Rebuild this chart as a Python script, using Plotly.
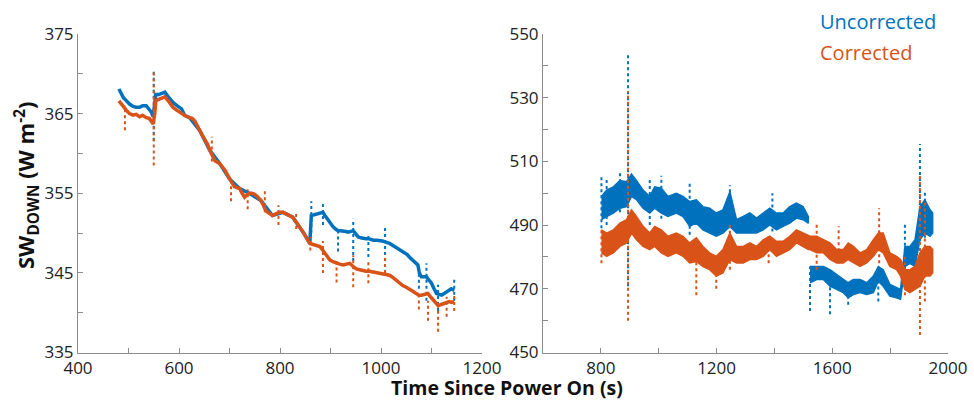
import plotly.graph_objects as go

BLUE = "#0072BD"
ORANGE = "#D95319"

# ---------------- Left panel ----------------
left_orange_x = [481, 488, 496, 502, 509, 515, 522, 528, 535, 541, 545, 549, 552, 554, 560, 566, 572, 580, 588, 596,
                 605, 613, 621, 626, 631, 636, 641, 646, 651, 656, 661, 666, 671, 676, 681, 686, 691, 696, 700, 705,
                 710, 715, 720, 725, 730, 735, 739, 744, 749, 755, 762, 767, 772, 778, 785, 792, 799, 806, 812, 819,
                 825, 832, 839, 844, 848, 854, 859, 864, 869, 874, 879, 884, 889, 894, 899, 905, 912, 918, 925, 932,
                 938, 945, 951, 958, 964, 970, 977, 984, 990, 997, 1004, 1010, 1017, 1024, 1030, 1037, 1043, 1050,
                 1056, 1063, 1070, 1075, 1080, 1086, 1093, 1098, 1103, 1108, 1113, 1118, 1122, 1128, 1135, 1140, 1145]
left_orange_y = [366.6, 366.0, 365.4, 365.0, 364.8, 364.9, 364.6, 364.8, 364.5, 364.4, 364.1, 363.7, 365.0, 366.6,
                 366.8, 367.0, 367.1, 366.5, 365.8, 365.4, 365.0, 364.7, 364.5, 364.4, 364.1, 363.4, 362.9, 362.3,
                 361.8, 361.2, 360.4, 359.8, 359.1, 358.9, 358.7, 358.3, 357.9, 357.3, 356.8, 356.3, 355.8, 355.7,
                 355.6, 355.0, 354.5, 354.8, 355.0, 355.0, 354.9, 354.6, 354.1, 353.5, 352.8, 352.5, 352.2, 352.4,
                 352.6, 352.6, 352.4, 352.2, 352.0, 351.4, 350.8, 350.3, 349.9, 349.2, 348.7, 348.6, 348.5, 348.4,
                 348.3, 347.9, 347.4, 347.0, 346.6, 346.4, 346.2, 346.1, 346.0, 346.1, 346.2, 345.8, 345.5, 345.4,
                 345.3, 345.2, 345.2, 345.1, 345.1, 345.0, 344.9, 344.8, 344.7, 344.4, 344.1, 343.7, 343.4, 343.2,
                 343.0, 342.7, 342.4, 342.2, 342.2, 342.3, 342.4, 342.0, 341.6, 341.2, 340.9, 341.0, 341.1, 341.3,
                 341.4, 341.3, 341.4]

left_blue_x = [481, 485, 490, 496, 502, 509, 515, 522, 528, 535, 540, 545, 549, 552, 554, 560, 566, 572, 580, 588,
               596, 605, 611, 621, 641, 661, 681, 700, 720, 739, 762, 785, 806, 825, 848, 859,
               862, 867, 872, 879, 885, 890, 895, 900, 905, 910, 915, 920, 925, 930, 935, 940, 945, 950, 955, 960,
               965, 970, 975, 980, 985, 992, 998, 1003, 1008, 1013, 1017, 1022, 1027, 1032, 1037, 1042, 1047, 1052,
               1056, 1061, 1066, 1070, 1073, 1076, 1080, 1085, 1090, 1095, 1100, 1105, 1110, 1115, 1120, 1125, 1129,
               1134, 1139, 1145]
left_blue_y = [368.1, 367.6, 367.0, 366.6, 366.2, 365.9, 365.8, 365.8, 366.0, 366.0, 365.6, 365.2, 364.6, 366.5,
               367.4, 367.4, 367.5, 367.7, 367.0, 366.4, 366.0, 365.6, 364.8, 364.5, 362.9, 360.4, 358.7, 356.8,
               355.6, 355.0, 354.1, 352.2, 352.6, 352.0, 349.9, 348.7,
               352.2, 352.3, 352.4, 352.5, 352.6, 352.1, 351.6, 351.2, 350.8, 350.5, 350.3, 350.3, 350.3, 350.2,
               350.1, 350.2, 350.3, 349.9, 349.5, 349.4, 349.3, 349.3, 349.3, 349.2, 349.1, 349.1, 349.1, 349.0,
               348.9, 348.8, 348.7, 348.5, 348.3, 348.2, 348.0, 347.8, 347.6, 347.3, 347.0, 346.7, 346.4, 346.2,
               346.0, 345.0, 344.5, 344.5, 344.5, 344.1, 343.7, 343.0, 342.4, 342.3, 342.2, 342.4, 342.6, 342.8,
               343.0, 342.8]

# spikes (time, low, high)
left_blue_spike_x = [550, 862, 885, 915, 945, 975, 1008, 1075, 1090, 1113, 1145]
left_blue_spike_lo = [361.6, 350.0, 351.0, 347.7, 346.5, 347.0, 346.5, 343.0, 341.5, 340.2, 341.5]
left_blue_spike_hi = [370.6, 354.0, 353.7, 350.5, 351.8, 350.0, 350.8, 346.0, 346.2, 343.5, 344.5]
left_orange_spike_x = [493, 550, 665, 703, 736, 770, 797, 832, 860, 885, 912, 945, 975, 1008, 1075, 1093, 1113, 1130, 1145]
left_orange_spike_lo = [362.9, 358.5, 359.0, 354.0, 353.0, 352.6, 351.0, 350.5, 347.8, 345.0, 343.8, 343.2, 343.7,
                        345.0, 340.4, 339.0, 337.6, 339.5, 340.2]
left_orange_spike_hi = [366.0, 370.3, 362.1, 356.6, 355.5, 355.5, 353.5, 352.5, 349.5, 349.0, 346.5, 347.2, 346.5,
                        347.3, 342.5, 341.5, 341.0, 342.0, 342.5]

# ---------------- Right panel (envelopes) ----------------
right_x = [802, 820, 843, 866, 889, 906, 923, 946, 969, 986, 1009, 1032, 1061, 1084, 1107, 1130, 1153, 1176, 1199,
           1222, 1246, 1269, 1292, 1315, 1338, 1361, 1384, 1407, 1430, 1453, 1476, 1499, 1517]
right_blue_hi_a = [499.0, 501.0, 502.0, 504.0, 503.6, 506.0, 504.0, 501.0, 499.0, 502.0, 501.6, 499.0, 500.0, 499.0,
                   497.4, 497.9, 495.8, 495.3, 493.8, 494.8, 500.5, 491.7, 492.7, 493.8, 492.2, 493.8, 495.3, 493.8,
                   493.8, 495.8, 496.9, 495.8, 492.7]
right_blue_lo_a = [491.7, 492.7, 493.8, 495.3, 495.8, 499.0, 498.0, 495.3, 493.8, 495.3, 493.8, 492.7, 493.8, 492.7,
                   489.6, 490.6, 488.5, 487.5, 486.5, 487.5, 489.6, 487.5, 487.5, 487.5, 487.5, 488.5, 490.1, 488.5,
                   489.6, 490.6, 492.2, 491.7, 490.6]
right_x_b = [1523, 1546, 1569, 1592, 1615, 1638, 1655, 1673, 1696, 1719, 1742, 1759, 1776, 1799, 1822, 1836, 1851,
             1868, 1886, 1903, 1920, 1938, 1947]
right_blue_hi_b = [477.0, 477.0, 477.0, 476.0, 474.5, 472.9, 471.9, 472.9, 472.9, 471.9, 474.0, 477.0, 476.0, 471.4,
                   470.3, 469.8, 483.3, 483.3, 485.4, 495.8, 497.9, 494.8, 493.8]
right_blue_lo_b = [471.9, 472.9, 472.9, 470.8, 469.8, 468.8, 467.2, 468.2, 468.8, 468.2, 468.8, 472.4, 470.8, 467.7,
                   467.2, 466.7, 477.0, 478.0, 477.0, 485.4, 487.5, 486.5, 487.5]

right_orange_x = right_x + right_x_b[:]
right_orange_hi = [488.5, 487.5, 488.5, 490.6, 491.7, 494.8, 492.7, 489.6, 487.5, 489.6, 488.5, 486.5, 487.5, 486.5,
                   484.4, 486.0, 483.3, 481.3, 480.2, 482.3, 487.5, 483.3, 483.3, 484.4, 483.3, 485.4, 486.5, 484.9,
                   484.9, 486.5, 488.5, 487.5, 486.5,
                   486.5, 486.5, 485.4, 484.4, 482.3, 482.3, 484.4, 483.3, 481.3, 482.3, 485.4, 487.5, 487.5, 481.3,
                   480.2, 479.2, 476.0, 476.0, 477.0, 481.3, 483.3, 483.3, 482.3]
right_orange_lo = [481.3, 480.2, 481.3, 483.3, 484.4, 487.5, 485.4, 483.3, 482.3, 483.3, 481.3, 480.2, 481.3, 480.2,
                   478.1, 478.6, 477.0, 476.0, 474.0, 475.0, 479.2, 478.1, 478.1, 479.2, 479.2, 480.2, 482.3, 480.2,
                   481.3, 482.3, 484.4, 483.3, 482.3,
                   482.3, 481.3, 481.3, 479.2, 478.1, 478.1, 479.2, 478.1, 477.0, 478.1, 480.2, 482.3, 481.3, 477.0,
                   476.0, 474.0, 469.8, 468.8, 469.8, 470.8, 474.0, 474.0, 475.0]

right_blue_spike_x = [802, 820, 866, 894, 969, 1009, 1107, 1246, 1393, 1523, 1592, 1655, 1759, 1851, 1903, 1920]
right_blue_spike_lo = [489.0, 490.0, 494.0, 470.8, 490.0, 492.0, 487.0, 489.0, 488.0, 463.0, 462.0, 465.0, 466.0, 476.0, 485.0, 486.0]
right_blue_spike_hi = [505.7, 505.0, 507.0, 543.8, 505.0, 505.5, 503.5, 502.5, 500.0, 477.0, 476.0, 472.0, 477.0, 491.0, 515.5, 501.0]
right_orange_spike_x = [802, 894, 1130, 1199, 1246, 1380, 1546, 1622, 1762, 1851, 1903, 1920]
right_orange_spike_lo = [478.0, 460.0, 468.0, 470.0, 476.0, 478.0, 476.0, 478.0, 478.0, 468.0, 455.5, 466.0]
right_orange_spike_hi = [489.0, 532.0, 486.0, 481.0, 490.0, 487.0, 491.0, 489.6, 495.3, 480.0, 506.0, 498.0]

legend_labels = ["Uncorrected", "Corrected"]


def spikes(xs, lo, hi):
    sx, sy = [], []
    for x, a, b in zip(xs, lo, hi):
        sx += [x, x, None]
        sy += [a, b, None]
    return sx, sy


def band(xs, hi, lo):
    return list(xs) + list(xs)[::-1], list(hi) + list(lo)[::-1]


fig = go.Figure()

# left panel
sx, sy = spikes(left_blue_spike_x, left_blue_spike_lo, left_blue_spike_hi)
fig.add_trace(go.Scatter(x=sx, y=sy, mode="lines", line=dict(color=BLUE, width=2, dash="dot"),
                         xaxis="x", yaxis="y", showlegend=False, hoverinfo="skip"))
fig.add_trace(go.Scatter(x=left_blue_x, y=left_blue_y, mode="lines", line=dict(color=BLUE, width=3.5),
                         xaxis="x", yaxis="y", name=legend_labels[0], showlegend=False))
sx, sy = spikes(left_orange_spike_x, left_orange_spike_lo, left_orange_spike_hi)
fig.add_trace(go.Scatter(x=sx, y=sy, mode="lines", line=dict(color=ORANGE, width=2, dash="dot"),
                         xaxis="x", yaxis="y", showlegend=False, hoverinfo="skip"))
fig.add_trace(go.Scatter(x=left_orange_x, y=left_orange_y, mode="lines", line=dict(color=ORANGE, width=3.5),
                         xaxis="x", yaxis="y", name=legend_labels[1], showlegend=False))

# right panel
sx, sy = spikes(right_blue_spike_x, right_blue_spike_lo, right_blue_spike_hi)
fig.add_trace(go.Scatter(x=sx, y=sy, mode="lines", line=dict(color=BLUE, width=2, dash="dot"),
                         xaxis="x2", yaxis="y2", showlegend=False, hoverinfo="skip"))
for xs, hi, lo in [(right_x, right_blue_hi_a, right_blue_lo_a), (right_x_b, right_blue_hi_b, right_blue_lo_b)]:
    bx, by = band(xs, hi, lo)
    fig.add_trace(go.Scatter(x=bx, y=by, mode="lines", fill="toself", fillcolor=BLUE,
                             line=dict(color=BLUE, width=1.5), xaxis="x2", yaxis="y2", showlegend=False))
sx, sy = spikes(right_orange_spike_x, right_orange_spike_lo, right_orange_spike_hi)
fig.add_trace(go.Scatter(x=sx, y=sy, mode="lines", line=dict(color=ORANGE, width=2, dash="dot"),
                         xaxis="x2", yaxis="y2", showlegend=False, hoverinfo="skip"))
bx, by = band(right_orange_x, right_orange_hi, right_orange_lo)
fig.add_trace(go.Scatter(x=bx, y=by, mode="lines", fill="toself", fillcolor=ORANGE,
                         line=dict(color=ORANGE, width=1.5), xaxis="x2", yaxis="y2", showlegend=False))

FONT = "Open Sans"
TICKFONT = dict(family=FONT, size=17, color="#222222")
axis_common = dict(showline=True, linecolor="#8c8c8c", linewidth=1, ticks="inside", ticklen=5,
                   tickcolor="#8c8c8c", showgrid=False, zeroline=False, tickfont=TICKFONT, automargin=False)

W, H = 974, 403
ydom = [1 - 352.5 / H, 1 - 34 / H]
fig.update_layout(
    width=W, height=H, margin=dict(l=0, r=0, t=0, b=0),
    paper_bgcolor="white", plot_bgcolor="white", showlegend=False,
    xaxis=dict(domain=[78 / W, 482 / W], range=[400, 1200], tick0=400, dtick=200,
               minor=dict(ticks="inside", ticklen=5, dtick=100, tickcolor="#8c8c8c"), anchor="y", **axis_common),
    yaxis=dict(domain=ydom, range=[335, 375], tick0=335, dtick=10,
               minor=dict(ticks="inside", ticklen=5, dtick=5, tickcolor="#8c8c8c"), anchor="x", **axis_common),
    xaxis2=dict(domain=[543 / W, 948 / W], range=[600, 2000], tick0=800, dtick=400,
                minor=dict(ticks="inside", ticklen=5, dtick=200, tickcolor="#8c8c8c"), anchor="y2", **axis_common),
    yaxis2=dict(domain=ydom, range=[450, 550], tick0=450, dtick=20,
                minor=dict(ticks="inside", ticklen=5, dtick=10, tickcolor="#8c8c8c"), anchor="x2", **axis_common),
)

fig.add_annotation(xref="paper", yref="paper", x=507 / W, y=1 - 403 / H, xanchor="center", yanchor="bottom",
                   text="<b>Time Since Power On (s)</b>", showarrow=False,
                   font=dict(family=FONT, size=19.5, color="#111111"))
fig.add_annotation(xref="paper", yref="paper", x=26 / W, y=1 - 186 / H, xanchor="center", yanchor="middle",
                   text="<b>SW<sub>DOWN</sub> (W m<sup>-2</sup>)</b>", textangle=-90, showarrow=False,
                   font=dict(family=FONT, size=22, color="#111111"))
fig.add_annotation(xref="paper", yref="paper", x=818 / W, y=1 - 22 / H, xanchor="left", yanchor="middle",
                   text=legend_labels[0], showarrow=False, font=dict(family=FONT, size=20, color=BLUE))
fig.add_annotation(xref="paper", yref="paper", x=818 / W, y=1 - 52 / H, xanchor="left", yanchor="middle",
                   text=legend_labels[1], showarrow=False, font=dict(family=FONT, size=20, color=ORANGE))

fig.write_html("out.html")
